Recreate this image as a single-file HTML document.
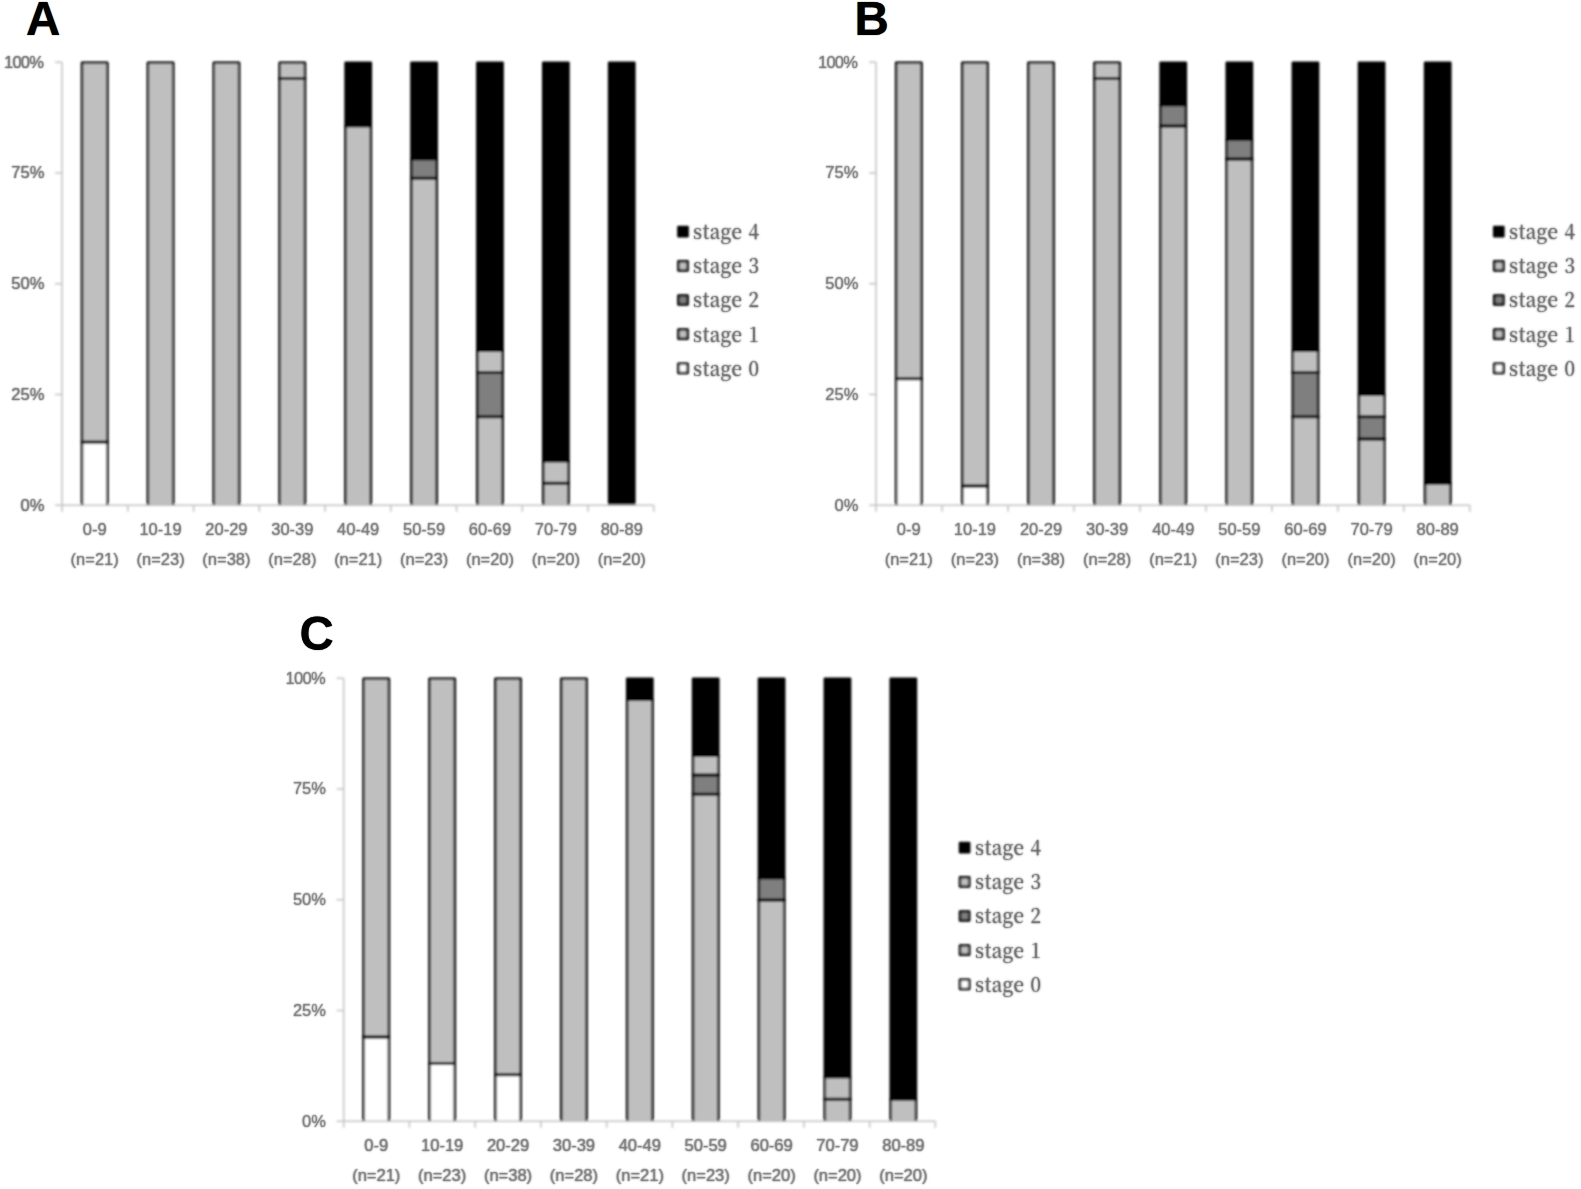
<!DOCTYPE html>
<html><head><meta charset="utf-8"><title>Figure</title>
<style>
html,body{margin:0;padding:0;background:#fff}
body{width:1581px;height:1189px;overflow:hidden;position:relative}
svg{display:block;position:absolute;left:0;top:0}
.t{position:absolute;white-space:pre;line-height:1}
.ax{font-family:"Liberation Sans",sans-serif;font-size:16.5px;color:rgba(128,128,128,.38);text-shadow:0 0 1.9px #737373,0 0 1.3px #909090}
.t100{letter-spacing:-0.7px}
.lt{font-family:"Liberation Sans",sans-serif;font-size:47.5px;font-weight:bold;color:#000;text-shadow:0 0 1px #000}
.lg{font-family:"Noto Serif CJK SC","Liberation Serif",serif;font-size:20.5px;letter-spacing:0.4px;word-spacing:0.8px;transform:scaleX(.93);transform-origin:0 50%;color:rgba(115,115,115,.35);text-shadow:0 0 2.2px #5e5e5e,0 0 1.5px #7c7c7c}
</style></head><body>
<svg width="1581" height="1189" viewBox="0 0 1581 1189">
<defs><filter id="bl" x="0" y="0" width="1581" height="1189" filterUnits="userSpaceOnUse"><feGaussianBlur stdDeviation="0.8"/></filter></defs>
<rect width="1581" height="1189" fill="#fff"/>
<g filter="url(#bl)">
<clipPath id="cp1"><rect x="62.10" y="56.30" width="591.66" height="448.60"/></clipPath>
<g clip-path="url(#cp1)">
<rect x="82.02" y="442.09" width="25.30" height="67.21" fill="#ffffff" stroke="#050505" stroke-width="2.5" stroke-linejoin="round"/>
<rect x="82.02" y="62.80" width="25.30" height="379.29" fill="#bfbfbf" stroke="#050505" stroke-width="2.5" stroke-linejoin="round"/>
<path d="M80.82 442.09h27.70" stroke="#0a0a0a" stroke-width="2.9" fill="none"/>
<rect x="147.90" y="62.80" width="25.30" height="446.50" fill="#bfbfbf" stroke="#050505" stroke-width="2.5" stroke-linejoin="round"/>
<rect x="213.79" y="62.80" width="25.30" height="446.50" fill="#bfbfbf" stroke="#050505" stroke-width="2.5" stroke-linejoin="round"/>
<rect x="279.67" y="78.60" width="25.30" height="430.70" fill="#bfbfbf" stroke="#050505" stroke-width="2.5" stroke-linejoin="round"/>
<rect x="279.67" y="62.80" width="25.30" height="15.80" fill="#bfbfbf" stroke="#050505" stroke-width="2.5" stroke-linejoin="round"/>
<path d="M278.47 78.60h27.70" stroke="#0a0a0a" stroke-width="2.9" fill="none"/>
<rect x="345.56" y="126.01" width="25.30" height="383.29" fill="#bfbfbf" stroke="#050505" stroke-width="2.5" stroke-linejoin="round"/>
<rect x="345.56" y="62.80" width="25.30" height="63.21" fill="#000000" stroke="#000000" stroke-width="2.5" stroke-linejoin="round"/>
<rect x="411.44" y="178.23" width="25.30" height="331.07" fill="#bfbfbf" stroke="#050505" stroke-width="2.5" stroke-linejoin="round"/>
<rect x="411.44" y="159.00" width="25.30" height="19.24" fill="#7f7f7f" stroke="#050505" stroke-width="2.5" stroke-linejoin="round"/>
<rect x="411.44" y="62.80" width="25.30" height="96.20" fill="#000000" stroke="#000000" stroke-width="2.5" stroke-linejoin="round"/>
<path d="M410.24 178.23h27.70" stroke="#0a0a0a" stroke-width="2.9" fill="none"/>
<rect x="477.32" y="416.80" width="25.30" height="92.50" fill="#bfbfbf" stroke="#050505" stroke-width="2.5" stroke-linejoin="round"/>
<rect x="477.32" y="372.55" width="25.30" height="44.25" fill="#7f7f7f" stroke="#050505" stroke-width="2.5" stroke-linejoin="round"/>
<rect x="477.32" y="350.43" width="25.30" height="22.12" fill="#bfbfbf" stroke="#050505" stroke-width="2.5" stroke-linejoin="round"/>
<rect x="477.32" y="62.80" width="25.30" height="287.62" fill="#000000" stroke="#000000" stroke-width="2.5" stroke-linejoin="round"/>
<path d="M476.12 416.80h27.70" stroke="#0a0a0a" stroke-width="2.9" fill="none"/>
<path d="M476.12 372.55h27.70" stroke="#0a0a0a" stroke-width="2.9" fill="none"/>
<rect x="543.21" y="483.18" width="25.30" height="26.12" fill="#bfbfbf" stroke="#050505" stroke-width="2.5" stroke-linejoin="round"/>
<rect x="543.21" y="461.05" width="25.30" height="22.12" fill="#bfbfbf" stroke="#050505" stroke-width="2.5" stroke-linejoin="round"/>
<rect x="543.21" y="62.80" width="25.30" height="398.25" fill="#000000" stroke="#000000" stroke-width="2.5" stroke-linejoin="round"/>
<path d="M542.01 483.18h27.70" stroke="#0a0a0a" stroke-width="2.9" fill="none"/>
<rect x="609.09" y="62.80" width="25.30" height="446.50" fill="#000000" stroke="#000000" stroke-width="2.5" stroke-linejoin="round"/>
</g>
<path d="M62.10 62.30V511.80M55.10 505.30H653.76M127.84 505.30v6.5M193.58 505.30v6.5M259.32 505.30v6.5M325.06 505.30v6.5M390.80 505.30v6.5M456.54 505.30v6.5M522.28 505.30v6.5M588.02 505.30v6.5M653.76 505.30v6.5M55.10 62.30h7M55.10 173.05h7M55.10 283.80h7M55.10 394.55h7" stroke="#c2c2c2" stroke-width="1.5" fill="none"/>
<rect x="678.40" y="227.00" width="9.2" height="9.2" fill="#000000" stroke="#000" stroke-width="2.5" stroke-linejoin="round"/>
<rect x="678.40" y="261.20" width="9.2" height="9.2" fill="#bfbfbf" stroke="#000" stroke-width="2.5" stroke-linejoin="round"/>
<rect x="678.40" y="295.40" width="9.2" height="9.2" fill="#7f7f7f" stroke="#000" stroke-width="2.5" stroke-linejoin="round"/>
<rect x="678.40" y="329.60" width="9.2" height="9.2" fill="#bfbfbf" stroke="#000" stroke-width="2.5" stroke-linejoin="round"/>
<rect x="678.40" y="363.80" width="9.2" height="9.2" fill="#ffffff" stroke="#000" stroke-width="2.5" stroke-linejoin="round"/>
<clipPath id="cp2"><rect x="876.10" y="56.30" width="593.73" height="448.60"/></clipPath>
<g clip-path="url(#cp2)">
<rect x="896.14" y="378.87" width="25.30" height="130.43" fill="#ffffff" stroke="#050505" stroke-width="2.5" stroke-linejoin="round"/>
<rect x="896.14" y="62.80" width="25.30" height="316.07" fill="#bfbfbf" stroke="#050505" stroke-width="2.5" stroke-linejoin="round"/>
<path d="M894.94 378.87h27.70" stroke="#0a0a0a" stroke-width="2.9" fill="none"/>
<rect x="962.25" y="486.06" width="25.30" height="23.24" fill="#ffffff" stroke="#050505" stroke-width="2.5" stroke-linejoin="round"/>
<rect x="962.25" y="62.80" width="25.30" height="423.26" fill="#bfbfbf" stroke="#050505" stroke-width="2.5" stroke-linejoin="round"/>
<path d="M961.05 486.06h27.70" stroke="#0a0a0a" stroke-width="2.9" fill="none"/>
<rect x="1028.36" y="62.80" width="25.30" height="446.50" fill="#bfbfbf" stroke="#050505" stroke-width="2.5" stroke-linejoin="round"/>
<rect x="1094.48" y="78.60" width="25.30" height="430.70" fill="#bfbfbf" stroke="#050505" stroke-width="2.5" stroke-linejoin="round"/>
<rect x="1094.48" y="62.80" width="25.30" height="15.80" fill="#bfbfbf" stroke="#050505" stroke-width="2.5" stroke-linejoin="round"/>
<path d="M1093.28 78.60h27.70" stroke="#0a0a0a" stroke-width="2.9" fill="none"/>
<rect x="1160.59" y="126.01" width="25.30" height="383.29" fill="#bfbfbf" stroke="#050505" stroke-width="2.5" stroke-linejoin="round"/>
<rect x="1160.59" y="104.94" width="25.30" height="21.07" fill="#7f7f7f" stroke="#050505" stroke-width="2.5" stroke-linejoin="round"/>
<rect x="1160.59" y="62.80" width="25.30" height="42.14" fill="#000000" stroke="#000000" stroke-width="2.5" stroke-linejoin="round"/>
<path d="M1159.39 126.01h27.70" stroke="#0a0a0a" stroke-width="2.9" fill="none"/>
<rect x="1226.70" y="159.00" width="25.30" height="350.30" fill="#bfbfbf" stroke="#050505" stroke-width="2.5" stroke-linejoin="round"/>
<rect x="1226.70" y="139.76" width="25.30" height="19.24" fill="#7f7f7f" stroke="#050505" stroke-width="2.5" stroke-linejoin="round"/>
<rect x="1226.70" y="62.80" width="25.30" height="76.96" fill="#000000" stroke="#000000" stroke-width="2.5" stroke-linejoin="round"/>
<path d="M1225.50 159.00h27.70" stroke="#0a0a0a" stroke-width="2.9" fill="none"/>
<rect x="1292.82" y="416.80" width="25.30" height="92.50" fill="#bfbfbf" stroke="#050505" stroke-width="2.5" stroke-linejoin="round"/>
<rect x="1292.82" y="372.55" width="25.30" height="44.25" fill="#7f7f7f" stroke="#050505" stroke-width="2.5" stroke-linejoin="round"/>
<rect x="1292.82" y="350.43" width="25.30" height="22.12" fill="#bfbfbf" stroke="#050505" stroke-width="2.5" stroke-linejoin="round"/>
<rect x="1292.82" y="62.80" width="25.30" height="287.62" fill="#000000" stroke="#000000" stroke-width="2.5" stroke-linejoin="round"/>
<path d="M1291.62 416.80h27.70" stroke="#0a0a0a" stroke-width="2.9" fill="none"/>
<path d="M1291.62 372.55h27.70" stroke="#0a0a0a" stroke-width="2.9" fill="none"/>
<rect x="1358.93" y="438.93" width="25.30" height="70.38" fill="#bfbfbf" stroke="#050505" stroke-width="2.5" stroke-linejoin="round"/>
<rect x="1358.93" y="416.80" width="25.30" height="22.12" fill="#7f7f7f" stroke="#050505" stroke-width="2.5" stroke-linejoin="round"/>
<rect x="1358.93" y="394.68" width="25.30" height="22.12" fill="#bfbfbf" stroke="#050505" stroke-width="2.5" stroke-linejoin="round"/>
<rect x="1358.93" y="62.80" width="25.30" height="331.88" fill="#000000" stroke="#000000" stroke-width="2.5" stroke-linejoin="round"/>
<path d="M1357.73 438.93h27.70" stroke="#0a0a0a" stroke-width="2.9" fill="none"/>
<path d="M1357.73 416.80h27.70" stroke="#0a0a0a" stroke-width="2.9" fill="none"/>
<rect x="1425.05" y="483.18" width="25.30" height="26.12" fill="#bfbfbf" stroke="#050505" stroke-width="2.5" stroke-linejoin="round"/>
<rect x="1425.05" y="62.80" width="25.30" height="420.38" fill="#000000" stroke="#000000" stroke-width="2.5" stroke-linejoin="round"/>
</g>
<path d="M876.10 62.30V511.80M869.10 505.30H1469.83M942.07 505.30v6.5M1008.04 505.30v6.5M1074.01 505.30v6.5M1139.98 505.30v6.5M1205.95 505.30v6.5M1271.92 505.30v6.5M1337.89 505.30v6.5M1403.86 505.30v6.5M1469.83 505.30v6.5M869.10 62.30h7M869.10 173.05h7M869.10 283.80h7M869.10 394.55h7" stroke="#c2c2c2" stroke-width="1.5" fill="none"/>
<rect x="1494.20" y="227.00" width="9.2" height="9.2" fill="#000000" stroke="#000" stroke-width="2.5" stroke-linejoin="round"/>
<rect x="1494.20" y="261.20" width="9.2" height="9.2" fill="#bfbfbf" stroke="#000" stroke-width="2.5" stroke-linejoin="round"/>
<rect x="1494.20" y="295.40" width="9.2" height="9.2" fill="#7f7f7f" stroke="#000" stroke-width="2.5" stroke-linejoin="round"/>
<rect x="1494.20" y="329.60" width="9.2" height="9.2" fill="#bfbfbf" stroke="#000" stroke-width="2.5" stroke-linejoin="round"/>
<rect x="1494.20" y="363.80" width="9.2" height="9.2" fill="#ffffff" stroke="#000" stroke-width="2.5" stroke-linejoin="round"/>
<clipPath id="cp3"><rect x="343.70" y="672.30" width="591.66" height="448.60"/></clipPath>
<g clip-path="url(#cp3)">
<rect x="363.62" y="1037.01" width="25.30" height="88.29" fill="#ffffff" stroke="#050505" stroke-width="2.5" stroke-linejoin="round"/>
<rect x="363.62" y="678.80" width="25.30" height="358.21" fill="#bfbfbf" stroke="#050505" stroke-width="2.5" stroke-linejoin="round"/>
<path d="M362.42 1037.01h27.70" stroke="#0a0a0a" stroke-width="2.9" fill="none"/>
<rect x="429.50" y="1063.58" width="25.30" height="61.72" fill="#ffffff" stroke="#050505" stroke-width="2.5" stroke-linejoin="round"/>
<rect x="429.50" y="678.80" width="25.30" height="384.78" fill="#bfbfbf" stroke="#050505" stroke-width="2.5" stroke-linejoin="round"/>
<path d="M428.30 1063.58h27.70" stroke="#0a0a0a" stroke-width="2.9" fill="none"/>
<rect x="495.39" y="1074.72" width="25.30" height="50.58" fill="#ffffff" stroke="#050505" stroke-width="2.5" stroke-linejoin="round"/>
<rect x="495.39" y="678.80" width="25.30" height="395.92" fill="#bfbfbf" stroke="#050505" stroke-width="2.5" stroke-linejoin="round"/>
<path d="M494.19 1074.72h27.70" stroke="#0a0a0a" stroke-width="2.9" fill="none"/>
<rect x="561.27" y="678.80" width="25.30" height="446.50" fill="#bfbfbf" stroke="#050505" stroke-width="2.5" stroke-linejoin="round"/>
<rect x="627.16" y="699.87" width="25.30" height="425.43" fill="#bfbfbf" stroke="#050505" stroke-width="2.5" stroke-linejoin="round"/>
<rect x="627.16" y="678.80" width="25.30" height="21.07" fill="#000000" stroke="#000000" stroke-width="2.5" stroke-linejoin="round"/>
<rect x="693.04" y="794.23" width="25.30" height="331.07" fill="#bfbfbf" stroke="#050505" stroke-width="2.5" stroke-linejoin="round"/>
<rect x="693.04" y="775.00" width="25.30" height="19.24" fill="#7f7f7f" stroke="#050505" stroke-width="2.5" stroke-linejoin="round"/>
<rect x="693.04" y="755.76" width="25.30" height="19.24" fill="#bfbfbf" stroke="#050505" stroke-width="2.5" stroke-linejoin="round"/>
<rect x="693.04" y="678.80" width="25.30" height="76.96" fill="#000000" stroke="#000000" stroke-width="2.5" stroke-linejoin="round"/>
<path d="M691.84 794.23h27.70" stroke="#0a0a0a" stroke-width="2.9" fill="none"/>
<path d="M691.84 775.00h27.70" stroke="#0a0a0a" stroke-width="2.9" fill="none"/>
<rect x="758.92" y="900.05" width="25.30" height="225.25" fill="#bfbfbf" stroke="#050505" stroke-width="2.5" stroke-linejoin="round"/>
<rect x="758.92" y="877.92" width="25.30" height="22.12" fill="#7f7f7f" stroke="#050505" stroke-width="2.5" stroke-linejoin="round"/>
<rect x="758.92" y="678.80" width="25.30" height="199.12" fill="#000000" stroke="#000000" stroke-width="2.5" stroke-linejoin="round"/>
<path d="M757.72 900.05h27.70" stroke="#0a0a0a" stroke-width="2.9" fill="none"/>
<rect x="824.81" y="1099.17" width="25.30" height="26.12" fill="#bfbfbf" stroke="#050505" stroke-width="2.5" stroke-linejoin="round"/>
<rect x="824.81" y="1077.05" width="25.30" height="22.12" fill="#bfbfbf" stroke="#050505" stroke-width="2.5" stroke-linejoin="round"/>
<rect x="824.81" y="678.80" width="25.30" height="398.25" fill="#000000" stroke="#000000" stroke-width="2.5" stroke-linejoin="round"/>
<path d="M823.61 1099.17h27.70" stroke="#0a0a0a" stroke-width="2.9" fill="none"/>
<rect x="890.69" y="1099.17" width="25.30" height="26.12" fill="#bfbfbf" stroke="#050505" stroke-width="2.5" stroke-linejoin="round"/>
<rect x="890.69" y="678.80" width="25.30" height="420.38" fill="#000000" stroke="#000000" stroke-width="2.5" stroke-linejoin="round"/>
</g>
<path d="M343.70 678.30V1127.80M336.70 1121.30H935.36M409.44 1121.30v6.5M475.18 1121.30v6.5M540.92 1121.30v6.5M606.66 1121.30v6.5M672.40 1121.30v6.5M738.14 1121.30v6.5M803.88 1121.30v6.5M869.62 1121.30v6.5M935.36 1121.30v6.5M336.70 678.30h7M336.70 789.05h7M336.70 899.80h7M336.70 1010.55h7" stroke="#c2c2c2" stroke-width="1.5" fill="none"/>
<rect x="960.00" y="843.00" width="9.2" height="9.2" fill="#000000" stroke="#000" stroke-width="2.5" stroke-linejoin="round"/>
<rect x="960.00" y="877.20" width="9.2" height="9.2" fill="#bfbfbf" stroke="#000" stroke-width="2.5" stroke-linejoin="round"/>
<rect x="960.00" y="911.40" width="9.2" height="9.2" fill="#7f7f7f" stroke="#000" stroke-width="2.5" stroke-linejoin="round"/>
<rect x="960.00" y="945.60" width="9.2" height="9.2" fill="#bfbfbf" stroke="#000" stroke-width="2.5" stroke-linejoin="round"/>
<rect x="960.00" y="979.80" width="9.2" height="9.2" fill="#ffffff" stroke="#000" stroke-width="2.5" stroke-linejoin="round"/>
</g>
</svg>
<span class="t ax" style="left:34.67px;width:120px;text-align:center;top:521.33px">0-9</span>
<span class="t ax" style="left:34.67px;width:120px;text-align:center;top:551.33px">(n=21)</span>
<span class="t ax" style="left:100.55px;width:120px;text-align:center;top:521.33px">10-19</span>
<span class="t ax" style="left:100.55px;width:120px;text-align:center;top:551.33px">(n=23)</span>
<span class="t ax" style="left:166.44px;width:120px;text-align:center;top:521.33px">20-29</span>
<span class="t ax" style="left:166.44px;width:120px;text-align:center;top:551.33px">(n=38)</span>
<span class="t ax" style="left:232.32px;width:120px;text-align:center;top:521.33px">30-39</span>
<span class="t ax" style="left:232.32px;width:120px;text-align:center;top:551.33px">(n=28)</span>
<span class="t ax" style="left:298.21px;width:120px;text-align:center;top:521.33px">40-49</span>
<span class="t ax" style="left:298.21px;width:120px;text-align:center;top:551.33px">(n=21)</span>
<span class="t ax" style="left:364.09px;width:120px;text-align:center;top:521.33px">50-59</span>
<span class="t ax" style="left:364.09px;width:120px;text-align:center;top:551.33px">(n=23)</span>
<span class="t ax" style="left:429.97px;width:120px;text-align:center;top:521.33px">60-69</span>
<span class="t ax" style="left:429.97px;width:120px;text-align:center;top:551.33px">(n=20)</span>
<span class="t ax" style="left:495.86px;width:120px;text-align:center;top:521.33px">70-79</span>
<span class="t ax" style="left:495.86px;width:120px;text-align:center;top:551.33px">(n=20)</span>
<span class="t ax" style="left:561.74px;width:120px;text-align:center;top:521.33px">80-89</span>
<span class="t ax" style="left:561.74px;width:120px;text-align:center;top:551.33px">(n=20)</span>
<span class="t ax t100" style="right:1537.70px;top:53.73px">100%</span>
<span class="t ax" style="right:1536.70px;top:164.26px">75%</span>
<span class="t ax" style="right:1536.70px;top:275.28px">50%</span>
<span class="t ax" style="right:1536.70px;top:386.31px">25%</span>
<span class="t ax" style="right:1536.70px;top:497.33px">0%</span>
<span class="t lt" style="left:26.00px;top:-5.51px">A</span>
<span class="t lg" style="left:693.30px;top:219.98px">stage 4</span>
<span class="t lg" style="left:693.30px;top:254.18px">stage 3</span>
<span class="t lg" style="left:693.30px;top:288.38px">stage 2</span>
<span class="t lg" style="left:693.30px;top:322.58px">stage 1</span>
<span class="t lg" style="left:693.30px;top:356.78px">stage 0</span>
<span class="t ax" style="left:848.79px;width:120px;text-align:center;top:521.33px">0-9</span>
<span class="t ax" style="left:848.79px;width:120px;text-align:center;top:551.33px">(n=21)</span>
<span class="t ax" style="left:914.90px;width:120px;text-align:center;top:521.33px">10-19</span>
<span class="t ax" style="left:914.90px;width:120px;text-align:center;top:551.33px">(n=23)</span>
<span class="t ax" style="left:981.01px;width:120px;text-align:center;top:521.33px">20-29</span>
<span class="t ax" style="left:981.01px;width:120px;text-align:center;top:551.33px">(n=38)</span>
<span class="t ax" style="left:1047.13px;width:120px;text-align:center;top:521.33px">30-39</span>
<span class="t ax" style="left:1047.13px;width:120px;text-align:center;top:551.33px">(n=28)</span>
<span class="t ax" style="left:1113.24px;width:120px;text-align:center;top:521.33px">40-49</span>
<span class="t ax" style="left:1113.24px;width:120px;text-align:center;top:551.33px">(n=21)</span>
<span class="t ax" style="left:1179.36px;width:120px;text-align:center;top:521.33px">50-59</span>
<span class="t ax" style="left:1179.36px;width:120px;text-align:center;top:551.33px">(n=23)</span>
<span class="t ax" style="left:1245.47px;width:120px;text-align:center;top:521.33px">60-69</span>
<span class="t ax" style="left:1245.47px;width:120px;text-align:center;top:551.33px">(n=20)</span>
<span class="t ax" style="left:1311.58px;width:120px;text-align:center;top:521.33px">70-79</span>
<span class="t ax" style="left:1311.58px;width:120px;text-align:center;top:551.33px">(n=20)</span>
<span class="t ax" style="left:1377.70px;width:120px;text-align:center;top:521.33px">80-89</span>
<span class="t ax" style="left:1377.70px;width:120px;text-align:center;top:551.33px">(n=20)</span>
<span class="t ax t100" style="right:723.70px;top:53.73px">100%</span>
<span class="t ax" style="right:722.70px;top:164.26px">75%</span>
<span class="t ax" style="right:722.70px;top:275.28px">50%</span>
<span class="t ax" style="right:722.70px;top:386.31px">25%</span>
<span class="t ax" style="right:722.70px;top:497.33px">0%</span>
<span class="t lt" style="left:854.50px;top:-5.41px">B</span>
<span class="t lg" style="left:1509.10px;top:219.98px">stage 4</span>
<span class="t lg" style="left:1509.10px;top:254.18px">stage 3</span>
<span class="t lg" style="left:1509.10px;top:288.38px">stage 2</span>
<span class="t lg" style="left:1509.10px;top:322.58px">stage 1</span>
<span class="t lg" style="left:1509.10px;top:356.78px">stage 0</span>
<span class="t ax" style="left:316.27px;width:120px;text-align:center;top:1137.33px">0-9</span>
<span class="t ax" style="left:316.27px;width:120px;text-align:center;top:1167.33px">(n=21)</span>
<span class="t ax" style="left:382.15px;width:120px;text-align:center;top:1137.33px">10-19</span>
<span class="t ax" style="left:382.15px;width:120px;text-align:center;top:1167.33px">(n=23)</span>
<span class="t ax" style="left:448.04px;width:120px;text-align:center;top:1137.33px">20-29</span>
<span class="t ax" style="left:448.04px;width:120px;text-align:center;top:1167.33px">(n=38)</span>
<span class="t ax" style="left:513.92px;width:120px;text-align:center;top:1137.33px">30-39</span>
<span class="t ax" style="left:513.92px;width:120px;text-align:center;top:1167.33px">(n=28)</span>
<span class="t ax" style="left:579.81px;width:120px;text-align:center;top:1137.33px">40-49</span>
<span class="t ax" style="left:579.81px;width:120px;text-align:center;top:1167.33px">(n=21)</span>
<span class="t ax" style="left:645.69px;width:120px;text-align:center;top:1137.33px">50-59</span>
<span class="t ax" style="left:645.69px;width:120px;text-align:center;top:1167.33px">(n=23)</span>
<span class="t ax" style="left:711.57px;width:120px;text-align:center;top:1137.33px">60-69</span>
<span class="t ax" style="left:711.57px;width:120px;text-align:center;top:1167.33px">(n=20)</span>
<span class="t ax" style="left:777.46px;width:120px;text-align:center;top:1137.33px">70-79</span>
<span class="t ax" style="left:777.46px;width:120px;text-align:center;top:1167.33px">(n=20)</span>
<span class="t ax" style="left:843.34px;width:120px;text-align:center;top:1137.33px">80-89</span>
<span class="t ax" style="left:843.34px;width:120px;text-align:center;top:1167.33px">(n=20)</span>
<span class="t ax t100" style="right:1256.10px;top:669.73px">100%</span>
<span class="t ax" style="right:1255.10px;top:780.26px">75%</span>
<span class="t ax" style="right:1255.10px;top:891.28px">50%</span>
<span class="t ax" style="right:1255.10px;top:1002.31px">25%</span>
<span class="t ax" style="right:1255.10px;top:1113.33px">0%</span>
<span class="t lt" style="left:299.50px;top:609.79px">C</span>
<span class="t lg" style="left:974.90px;top:835.98px">stage 4</span>
<span class="t lg" style="left:974.90px;top:870.18px">stage 3</span>
<span class="t lg" style="left:974.90px;top:904.38px">stage 2</span>
<span class="t lg" style="left:974.90px;top:938.58px">stage 1</span>
<span class="t lg" style="left:974.90px;top:972.78px">stage 0</span>
</body></html>
